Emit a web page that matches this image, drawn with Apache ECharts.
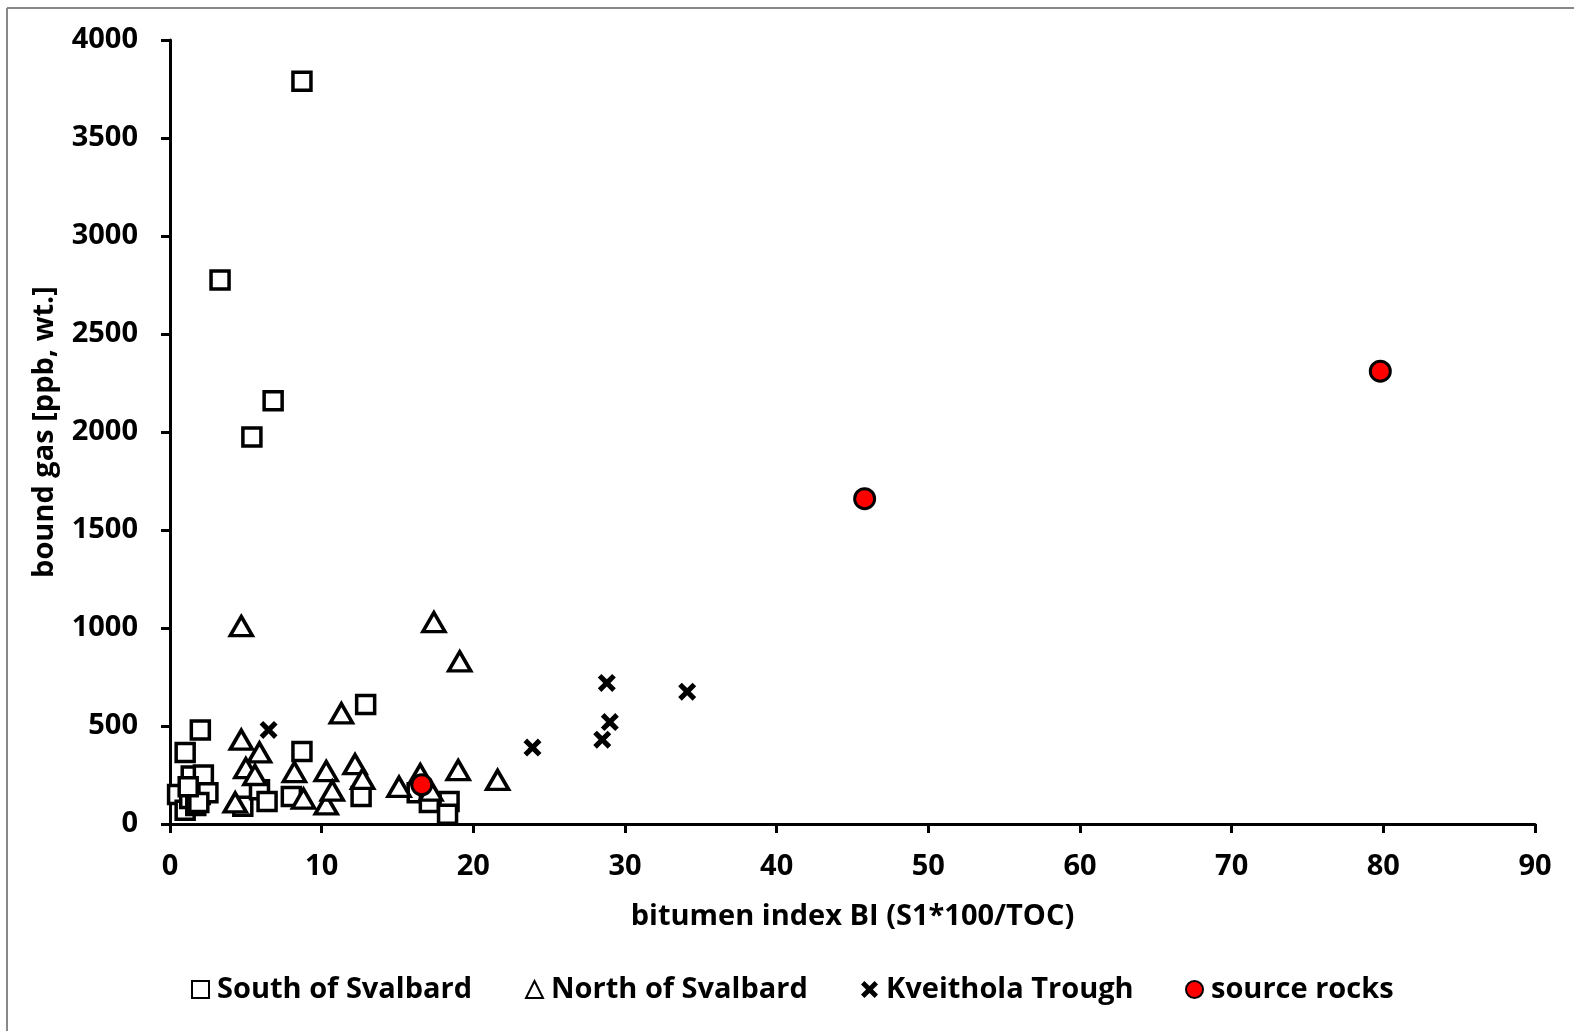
<!DOCTYPE html>
<html>
    <head>
        <meta charset="utf-8">
        <script src="https://cdn.jsdelivr.net/npm/echarts@6/dist/echarts.min.js"></script>
    </head>
    <body>
        <style>
            html, body, #main {
                width: 100%;
                height: 100%;
                margin: 0;
                background: #fff;
            }
        </style>
        <div id="main"></div>
        <script>
            // [bitumen index, bound gas]
            var southSvalbard = [
                [8.7, 3790], [3.3, 2775], [6.8, 2160], [5.4, 1975], [12.9, 610],
                [2.0, 480], [1.0, 365], [8.7, 370], [1.4, 245], [2.2, 250],
                [0.5, 150], [1.0, 70], [1.3, 130], [1.7, 95], [2.0, 150],
                [2.5, 160], [1.9, 110], [1.2, 190], [4.8, 90], [5.9, 175],
                [6.4, 115], [8.0, 140], [12.6, 140], [16.3, 160], [17.1, 110],
                [18.4, 115], [18.3, 50]
            ];
            var northSvalbard = [
                [4.7, 1010], [17.4, 1030], [19.1, 830], [11.3, 565], [4.7, 430],
                [5.9, 365], [5.0, 285], [5.6, 250], [8.2, 265], [10.3, 270],
                [12.2, 305], [12.7, 230], [15.1, 190], [16.5, 255], [17.2, 170],
                [19.0, 275], [21.6, 225], [4.3, 110], [8.8, 130], [10.3, 100],
                [10.7, 170]
            ];
            var kveitholaTrough = [
                [6.5, 480], [23.9, 390], [28.8, 720], [29.0, 520], [28.5, 430], [34.1, 675]
            ];
            var sourceRocks = [
                [79.8, 2310], [45.8, 1660], [16.6, 200]
            ];

            var font = '"Open Sans", Lato, sans-serif';
            var crossPath = 'path://M0,2L2,0L5,3L8,0L10,2L7,5L10,8L8,10L5,7L2,10L0,8L3,5Z';

            var chart = echarts.init(document.getElementById('main'));

            function legendAt(name, left) {
                return {
                    data: [name],
                    left: left,
                    top: 970,
                    itemWidth: 17,
                    itemHeight: 17,
                    itemGap: 0,
                    selectedMode: false,
                    textStyle: { fontFamily: font, fontWeight: 'bold', fontSize: 29, color: '#000', padding: [0, 0, 0, 3] }
                };
            }

            chart.setOption({
                animation: false,
                textStyle: { fontFamily: font },
                graphic: [
                    { type: 'line', shape: { x1: 7, y1: 8, x2: 1574, y2: 8 }, style: { stroke: '#888', lineWidth: 2 } },
                    { type: 'line', shape: { x1: 7, y1: 8, x2: 7, y2: 1031 }, style: { stroke: '#888', lineWidth: 2 } }
                ],
                grid: { left: 170, right: 39, top: 40, bottom: 207 },
                legend: [
                    legendAt('South of Svalbard', 186),
                    legendAt('North of Svalbard', 520),
                    legendAt('Kveithola Trough', 856),
                    legendAt('source rocks', 1180)
                ],
                xAxis: {
                    type: 'value',
                    min: 0,
                    max: 90,
                    interval: 10,
                    name: 'bitumen index BI (S1*100/TOC)',
                    nameLocation: 'middle',
                    nameGap: 78,
                    nameTextStyle: { fontFamily: font, fontWeight: 'bold', fontSize: 29, color: '#000' },
                    splitLine: { show: false },
                    axisLine: { show: true, lineStyle: { color: '#000', width: 3 } },
                    axisTick: { show: true, length: 9, lineStyle: { color: '#000', width: 3 } },
                    axisLabel: { margin: 28, fontFamily: font, fontWeight: 'bold', fontSize: 29, color: '#000' }
                },
                yAxis: {
                    type: 'value',
                    min: 0,
                    max: 4000,
                    interval: 500,
                    name: 'bound gas [ppb, wt.]',
                    nameLocation: 'middle',
                    nameGap: 111,
                    nameTextStyle: { fontFamily: font, fontWeight: 'bold', fontSize: 29, color: '#000' },
                    splitLine: { show: false },
                    axisLine: { show: true, lineStyle: { color: '#000', width: 3 } },
                    axisTick: { show: true, length: 9, lineStyle: { color: '#000', width: 3 } },
                    axisLabel: { margin: 32, fontFamily: font, fontWeight: 'bold', fontSize: 29, color: '#000', formatter: function (v) { return String(v); } }
                },
                series: [
                    {
                        name: 'South of Svalbard',
                        type: 'scatter',
                        data: southSvalbard,
                        symbol: 'rect',
                        symbolSize: 18,
                        itemStyle: { color: '#fff', borderColor: '#000', borderWidth: 3.5, opacity: 1 }
                    },
                    {
                        name: 'North of Svalbard',
                        type: 'scatter',
                        data: northSvalbard,
                        symbol: 'triangle',
                        symbolSize: [22, 19],
                        itemStyle: { color: '#fff', borderColor: '#000', borderWidth: 3.5, opacity: 1 }
                    },
                    {
                        name: 'Kveithola Trough',
                        type: 'scatter',
                        data: kveitholaTrough,
                        symbol: crossPath,
                        symbolSize: 18,
                        itemStyle: { color: '#000', borderWidth: 0, opacity: 1 }
                    },
                    {
                        name: 'source rocks',
                        type: 'scatter',
                        data: sourceRocks,
                        symbol: 'circle',
                        symbolSize: 20,
                        itemStyle: { color: '#ff0000', borderColor: '#000', borderWidth: 3, opacity: 1 }
                    }
                ]
            });
        </script>
    </body>
</html>
